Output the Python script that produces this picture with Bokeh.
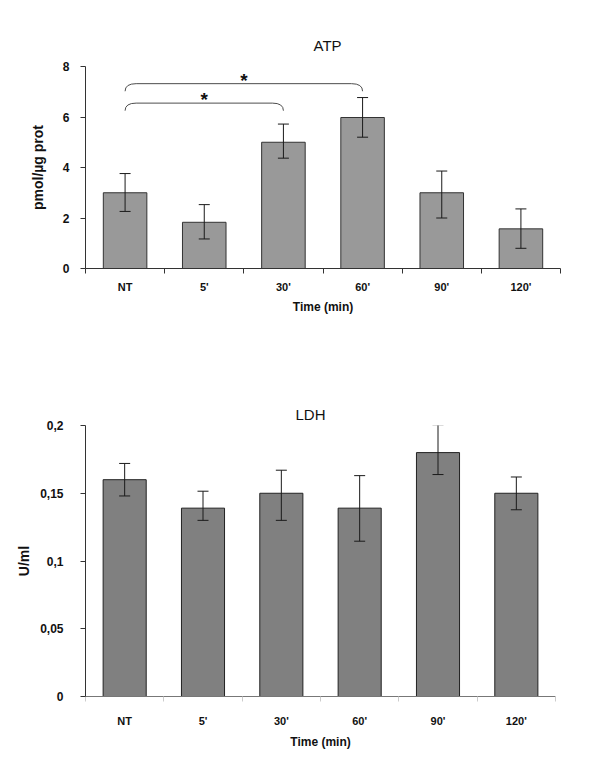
from bokeh.plotting import figure
from bokeh.layouts import column
from bokeh.models import Range1d, FixedTicker, Whisker, TeeHead, ColumnDataSource
from bokeh.embed import file_html
from bokeh.resources import INLINE
from bokeh.core.properties import value
import numpy as np

# ---------------- data ----------------
categories = ["NT", "5'", "30'", "60'", "90'", "120'"]

atp_mean = [3.0, 1.83, 5.0, 5.98, 3.0, 1.57]
atp_upper = [3.76, 2.53, 5.72, 6.77, 3.86, 2.36]
atp_lower = [2.26, 1.17, 4.37, 5.2, 2.0, 0.8]
atp_ticks = [0, 2, 4, 6, 8]

ldh_mean = [0.160, 0.139, 0.150, 0.139, 0.180, 0.150]
ldh_upper = [0.172, 0.1515, 0.167, 0.163, 0.2005, 0.162]
ldh_lower = [0.148, 0.130, 0.130, 0.1146, 0.1638, 0.1378]
ldh_ticks = [0, 0.05, 0.1, 0.15, 0.2]

bracket_from = ["NT", "NT"]
bracket_to = ["60'", "30'"]
bracket_level = [7.32, 6.55]
bracket_mark = ["*", "*"]

FONT = "Liberation Sans"


def fmt(v):
    return ("%g" % v).replace(".", ",")


def make_fig(title, ylabel, mean, upper, lower, yticks, ymax, fill,
             frame_w, frame_h, left, top, right, bottom, title_offset,
             title_standoff, ylabel_standoff, xaxis_color, xtick_color,
             tick_standoff, bar_line, xlabel_standoff, xtitle_standoff):
    n = len(categories)
    centers = list(np.arange(n) + 0.5)
    bounds = list(np.arange(n + 1).astype(float))
    p = figure(frame_width=frame_w, frame_height=frame_h,
               min_border_left=left, min_border_top=top,
               min_border_right=right, min_border_bottom=bottom,
               x_range=Range1d(0, n), y_range=Range1d(0, ymax),
               output_backend="svg", toolbar_location=None)
    p.outline_line_color = None
    p.grid.visible = False
    p.background_fill_color = "white"

    src = ColumnDataSource(dict(x=centers, top=mean, upper=upper, lower=lower))
    p.vbar(x="x", top="top", bottom=0, width=0.55, source=src,
           fill_color=fill, line_color=bar_line, line_width=1)
    w = Whisker(base="x", upper="upper", lower="lower", source=src,
                level="overlay",
                line_color="#1a1a1a", line_width=1,
                upper_head=TeeHead(size=11, line_color="#1a1a1a", line_width=1),
                lower_head=TeeHead(size=11, line_color="#1a1a1a", line_width=1))
    p.add_layout(w)

    # title
    p.title.text = title
    p.title.align = "left"
    p.title.offset = title_offset
    p.title.standoff = title_standoff
    p.title.text_font = FONT
    p.title.text_font_size = "15px"
    p.title.text_font_style = "normal"
    p.title.text_color = "#111111"

    # x axis
    xa = p.xaxis[0]
    xa.ticker = FixedTicker(ticks=centers, minor_ticks=bounds)
    xa.major_label_overrides = {float(c): name for c, name in zip(centers, categories)}
    xa.major_tick_in = 0
    xa.major_tick_out = 0
    xa.minor_tick_in = 0
    xa.minor_tick_out = 5
    xa.minor_tick_line_color = xtick_color
    xa.axis_line_color = xaxis_color
    xa.major_label_text_font = FONT
    xa.major_label_text_font_style = "bold"
    xa.major_label_text_font_size = "11px"
    xa.major_label_text_color = "#111111"
    xa.major_label_standoff = xlabel_standoff
    xa.axis_label = "Time (min)"
    xa.axis_label_text_font = FONT
    xa.axis_label_text_font_style = "bold"
    xa.axis_label_text_font_size = "12px"
    xa.axis_label_text_color = "#111111"
    xa.axis_label_standoff = xtitle_standoff

    # y axis
    ya = p.yaxis[0]
    ya.ticker = FixedTicker(ticks=yticks, minor_ticks=[])
    ya.major_label_overrides = {float(t): fmt(t) for t in yticks}
    ya.major_tick_in = 0
    ya.major_tick_out = 5
    ya.major_tick_line_color = "#333333"
    ya.axis_line_color = "#333333"
    ya.major_label_text_font = FONT
    ya.major_label_text_font_style = "bold"
    ya.major_label_text_font_size = "12px"
    ya.major_label_text_color = "#111111"
    ya.major_label_standoff = tick_standoff
    ya.axis_label = ylabel
    ya.axis_label_text_font = FONT
    ya.axis_label_text_font_style = "bold"
    ya.axis_label_text_font_size = "14px"
    ya.axis_label_text_color = "#111111"
    ya.axis_label_standoff = ylabel_standoff
    return p


p1 = make_fig("ATP", "pmol/\u00b5g prot", atp_mean, atp_upper, atp_lower,
              atp_ticks, 8, "#999999", 475, 202, 76, 66, 33, 72, 228, 26, 14,
              "#333333", "#333333", 11, "#333333", 7, 4)

# significance brackets
idx = {c: i + 0.5 for i, c in enumerate(categories)}
dx, dy = 0.14, 0.3
for a, b, lvl, mark in zip(bracket_from, bracket_to, bracket_level, bracket_mark):
    xl, xr = idx[a], idx[b]
    p1.quadratic(x0=[xl, xr], y0=[lvl - dy, lvl - dy],
                 x1=[xl + dx, xr - dx], y1=[lvl, lvl],
                 cx=[xl, xr], cy=[lvl, lvl],
                 line_color="#4d4d4d", line_width=1)
    p1.segment(x0=[xl + dx], y0=[lvl], x1=[xr - dx], y1=[lvl],
               line_color="#4d4d4d", line_width=1)
    p1.text(x=[(xl + xr) / 2], y=[lvl + 0.14], text=[mark],
            text_font=value(FONT), text_font_style="bold",
            text_font_size="19px", text_align="center",
            text_baseline="alphabetic", text_color="#111111")

p2 = make_fig("LDH", "U/ml", ldh_mean, ldh_upper, ldh_lower,
              ldh_ticks, 0.2, "#808080", 470, 271, 85, 85, 29, 55, 210, 6, 5,
              "#777777", "#cccccc", 17, "#222222", 13, 5)

layout = column(p1, p2)
open("out.html", "w").write(file_html(layout, INLINE))
